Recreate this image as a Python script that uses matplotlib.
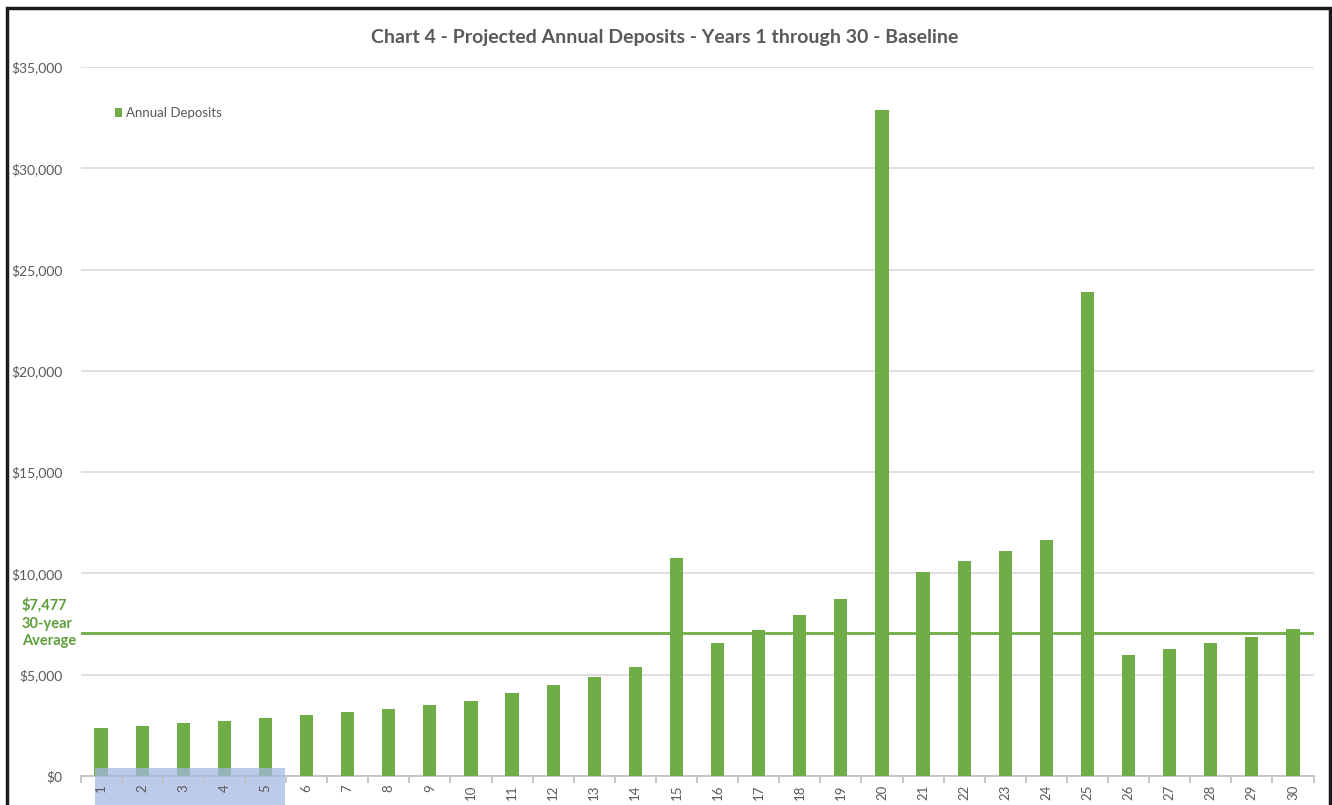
import matplotlib
matplotlib.use("Agg")
import matplotlib.pyplot as plt
from matplotlib.patches import Rectangle
import matplotlib.transforms as mtransforms

years = list(range(1, 31))
year_labels = [str(y) for y in years]
deposits = [2350, 2470, 2600, 2715, 2860, 3010, 3160, 3310, 3500, 3700,
            4100, 4490, 4900, 5395, 10760, 6550, 7205, 7930, 8735, 32870,
            10070, 10610, 11100, 11650, 23890, 5955, 6250, 6550, 6875, 7240]
average_line = 7050
average_label = "$7,477\n30-year\nAverage"
yticks = [0, 5000, 10000, 15000, 20000, 25000, 30000, 35000]
ytick_labels = ["$0", "$5,000", "$10,000", "$15,000", "$20,000", "$25,000", "$30,000", "$35,000"]
title = "Chart 4 - Projected Annual Deposits - Years 1 through 30 - Baseline"

GREEN = "#70ad47"
GRAY = "#595959"
plt.rcParams['font.family'] = ['Lato', 'DejaVu Sans']

W, H = 1332, 805
fig = plt.figure(figsize=(W / 100, H / 100), dpi=100)
ax = fig.add_axes([80.5 / W, 1 - 776 / H, (1313.5 - 80.5) / W, (776 - 67) / H])

ax.bar(years, deposits, width=0.32, color=GREEN, zorder=3, label="Annual Deposits")
ax.axhline(average_line, color=GREEN, lw=2, zorder=4)

ax.set_xlim(0.5, 30.5)
ax.set_ylim(0, 35000)
ax.set_yticks(yticks)
ax.set_yticklabels(ytick_labels, color=GRAY, fontsize=10)
ax.yaxis.grid(True, color="#d9d9d9", lw=1.2, zorder=0)
ax.tick_params(axis='y', length=0, pad=13)

ax.set_xticks(years)
ax.set_xticklabels(year_labels, rotation=90, color=GRAY, fontsize=9.5)
ax.tick_params(axis='x', length=0, pad=6)
ax.set_xticks([y + 0.5 for y in range(0, 31)], minor=True)
ax.tick_params(axis='x', which='minor', length=5, color="#bfbfbf", width=1.2)

for s in ['top', 'right', 'left']:
    ax.spines[s].set_visible(False)
ax.spines['bottom'].set_color("#bfbfbf")
ax.spines['bottom'].set_linewidth(1.2)

# highlight over years 1-5 (drawn over bars, under tick labels)
trans = mtransforms.blended_transform_factory(ax.transData, fig.transFigure)
rect = Rectangle((0.86, 0.0), 5.47 - 0.86, 1 - 768 / H, transform=trans,
                 facecolor="#a4b8e3", alpha=0.72, edgecolor="none", zorder=5, clip_on=False)
ax.add_artist(rect)
ax.xaxis.set_zorder(6)

leg = ax.legend(loc='upper left', bbox_to_anchor=(0.018, 0.96), frameon=False,
                fontsize=9.5, handlelength=0.6, handleheight=0.6, handletextpad=0.3,
                labelcolor=GRAY)

fig.text(22 / W, 1 - 623 / H, average_label, color="#5e9e3a", fontsize=10.5,
         fontweight='bold', ha='left', va='center', multialignment='left',
         linespacing=1.35)

fig.text(665 / W, 1 - 37 / H, title, color="#595959", fontsize=14,
         fontweight='bold', ha='center', va='center')

# outer frame
fig.add_artist(Rectangle((7 / W, -0.01), (1330 - 7) / W, (805 - 8) / H + 0.01,
                         transform=fig.transFigure, fill=False, edgecolor="#1a1a1a",
                         lw=2.5, zorder=10))

fig.savefig("out.png", dpi=100)
